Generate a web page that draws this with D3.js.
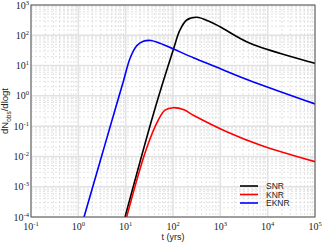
<!DOCTYPE html>
<html>
<head>
<meta charset="utf-8">
<script src="https://cdn.jsdelivr.net/npm/d3@7"></script>
<style>
  body { margin: 0; background: #fff; }
  svg { display: block; }
</style>
</head>
<body>
<div id="chart"></div>
<script>
// values (t in years, dN_obs/dlogt)
const snrT = [9.7, 39.7, 101, 140.6, 195, 317, 605, 985, 4240, 100000];
const snrV = [1e-4, 0.294, 32.7, 150, 320, 393, 281, 192, 54.4, 11.9];

const knrT = [10.5, 26.9, 49, 67.8, 101.6, 170, 269, 1365, 6890, 100000];
const knrV = [1e-4, 0.0163, 0.16, 0.34, 0.407, 0.345, 0.23, 0.0656, 0.0239, 0.0067];

const eknrT = [1.32, 2.87, 5.95, 8.9, 12.4, 17.1, 23.6, 34.3, 53, 102, 269, 773, 3890, 100000];
const eknrV = [1e-4, 0.0067, 0.34, 2.94, 17.4, 45, 63, 67.3, 54.4, 35.2, 18.2, 9.3, 3.34, 0.54];

const seriesNames = ["SNR", "KNR", "EKNR"];
const seriesColors = ["#000000", "#ff0000", "#0000ff"];
const xTickExps = [-1, 0, 1, 2, 3, 4, 5];
const yTickExps = [-4, -3, -2, -1, 0, 1, 2, 3];

const W = 322, H = 242;
const margin = { top: 5, right: 7, bottom: 25, left: 31 };
const width = W - margin.left - margin.right,
  height = H - margin.top - margin.bottom;

const svg = d3.select("#chart").append("svg")
  .attr("width", W).attr("height", H);

const g = svg.append("g")
  .attr("transform", "translate(" + margin.left + "," + margin.top + ")");

const x = d3.scaleLog().domain([0.1, 1e5]).range([0, width]);
const y = d3.scaleLog().domain([1e-4, 1e3]).range([height, 0]);

// minor grid (dashed) and major grid
const minorX = [], minorY = [];
xTickExps.slice(0, -1).forEach(e => { for (let k = 2; k < 10; k++) minorX.push(k * Math.pow(10, e)); });
yTickExps.slice(0, -1).forEach(e => { for (let k = 2; k < 10; k++) minorY.push(k * Math.pow(10, e)); });

g.append("g").selectAll("line").data(minorX).enter().append("line")
  .attr("x1", d => x(d)).attr("x2", d => x(d))
  .attr("y1", 0).attr("y2", height)
  .attr("stroke", "#dcdcdc").attr("stroke-width", 0.8).attr("stroke-dasharray", "2,2");
g.append("g").selectAll("line").data(minorY).enter().append("line")
  .attr("y1", d => y(d)).attr("y2", d => y(d))
  .attr("x1", 0).attr("x2", width)
  .attr("stroke", "#dcdcdc").attr("stroke-width", 0.8).attr("stroke-dasharray", "2,2");

g.append("g").selectAll("line").data(xTickExps).enter().append("line")
  .attr("x1", d => x(Math.pow(10, d))).attr("x2", d => x(Math.pow(10, d)))
  .attr("y1", 0).attr("y2", height)
  .attr("stroke", "#e2e2e2").attr("stroke-width", 1.5);
g.append("g").selectAll("line").data(yTickExps).enter().append("line")
  .attr("y1", d => y(Math.pow(10, d))).attr("y2", d => y(Math.pow(10, d)))
  .attr("x1", 0).attr("x2", width)
  .attr("stroke", "#e2e2e2").attr("stroke-width", 1.5);

// curves
g.append("defs").append("clipPath").attr("id", "clip")
  .append("rect").attr("width", width).attr("height", height);

const line = d3.line()
  .x(d => x(d[0])).y(d => y(d[1]))
  .curve(d3.curveCatmullRom.alpha(0.5));

const series = [
  snrT.map((t, i) => [t, snrV[i]]),
  knrT.map((t, i) => [t, knrV[i]]),
  eknrT.map((t, i) => [t, eknrV[i]])
];

const curves = g.append("g").attr("clip-path", "url(#clip)");
series.forEach((s, i) => {
  curves.append("path").datum(s)
    .attr("d", line)
    .attr("fill", "none")
    .attr("stroke", seriesColors[i])
    .attr("stroke-width", 1.6);
});

// frame
g.append("rect").attr("width", width).attr("height", height)
  .attr("fill", "none").attr("stroke", "#555").attr("stroke-width", 1);

// tick labels
const xl = g.append("g").selectAll("text").data(xTickExps).enter().append("text")
  .attr("x", d => x(Math.pow(10, d)))
  .attr("y", height + 13)
  .attr("text-anchor", "middle")
  .attr("font-family", "Liberation Serif, serif")
  .attr("font-size", 10)
  .attr("fill", "#222");
xl.append("tspan").text("10");
xl.append("tspan").attr("dy", -4).attr("font-size", 6.5).text(d => d);

const yl = g.append("g").selectAll("text").data(yTickExps).enter().append("text")
  .attr("x", -2)
  .attr("y", d => y(Math.pow(10, d)) + 3.5)
  .attr("text-anchor", "end")
  .attr("font-family", "Liberation Serif, serif")
  .attr("font-size", 10)
  .attr("fill", "#222");
yl.append("tspan").text("10");
yl.append("tspan").attr("dy", -4).attr("font-size", 6.5).text(d => d);

// axis titles
svg.append("text")
  .attr("x", margin.left + x(100)).attr("y", 239.5)
  .attr("text-anchor", "middle")
  .attr("font-family", "Liberation Sans, Arial, sans-serif")
  .attr("font-size", 9).attr("fill", "#222")
  .text("t (yrs)");

const yt = svg.append("text")
  .attr("transform", "translate(8," + (margin.top + height / 2) + ") rotate(-90)")
  .attr("text-anchor", "middle")
  .attr("font-family", "Liberation Sans, Arial, sans-serif")
  .attr("font-size", 9.5).attr("fill", "#222");
yt.append("tspan").text("dN");
yt.append("tspan").attr("dy", 2.5).attr("font-size", 6.5).text("obs");
yt.append("tspan").attr("dy", -2.5).text("/dlogt");

// legend
const leg = svg.append("g").attr("transform", "translate(240,186)");
seriesNames.forEach((n, i) => {
  const row = leg.append("g").attr("transform", "translate(0," + i * 8.5 + ")");
  row.append("line").attr("x1", 0).attr("x2", 18).attr("y1", 0).attr("y2", 0)
    .attr("stroke", seriesColors[i]).attr("stroke-width", 1.6);
  row.append("text").attr("x", 26).attr("y", 3)
    .attr("font-family", "Liberation Sans, Arial, sans-serif")
    .attr("font-size", 8.5).attr("fill", "#222")
    .text(n);
});
</script>
</body>
</html>
